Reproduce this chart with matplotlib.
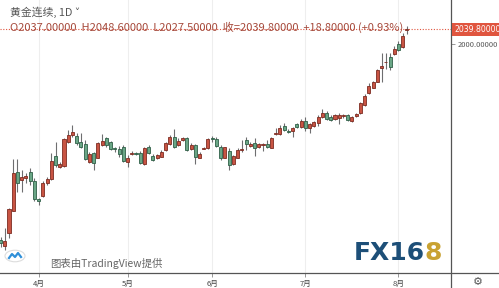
import matplotlib
matplotlib.use("Agg")
import matplotlib.pyplot as plt
from matplotlib.lines import Line2D
from matplotlib.patches import Circle

plt.rcParams['font.family'] = ['Noto Sans CJK SC', 'DejaVu Sans']

# --- Daten ------------------------------------------------------------------
opens = [1480.8, 1464.9, 1499.4, 1558.5, 1662.0, 1640.0, 1646.6, 1661.2, 1638.1, 1588.3,
         1597.5, 1631.2, 1641.8, 1704.5, 1673.7, 1677.1, 1740.0, 1759.4, 1756.7, 1740.0,
         1735.5, 1688.5, 1710.8, 1699.1, 1732.8, 1750.6, 1741.6, 1725.4, 1721.4, 1728.3,
         1688.5, 1710.0, 1711.0, 1710.8, 1681.6, 1726.7, 1704.5, 1697.6, 1701.8, 1719.6,
         1735.5, 1754.9, 1732.8, 1745.3, 1750.6, 1722.2, 1732.8, 1699.1, 1723.5, 1724.1,
         1749.5, 1748.0, 1728.3, 1699.1, 1717.7, 1681.6, 1699.1, 1719.0, 1746.1, 1730.2,
         1738.9, 1728.3, 1732.3, 1734.7, 1725.7, 1762.5, 1761.2, 1783.3, 1768.8, 1770.8,
         1787.8, 1779.8, 1796.5, 1777.1, 1783.3, 1792.0, 1806.3, 1816.9, 1807.9, 1801.8,
         1803.7, 1810.5, 1812.4, 1797.8, 1808.5, 1816.9, 1839.0, 1870.0, 1884.9, 1900.8,
         1936.3, 1952.0, 1965.5, 1973.5, 2000.8, 1993.6, 2037.0]
highs = [1489.6, 1512.6, 1565.7, 1695.7, 1695.7, 1666.5, 1658.6, 1671.8, 1645.3, 1592.2,
         1637.3, 1648.7, 1711.6, 1740.0, 1688.5, 1750.6, 1772.6, 1785.9, 1763.9, 1765.5,
         1746.1, 1715.1, 1715.1, 1741.6, 1762.0, 1754.9, 1743.5, 1728.3, 1730.2, 1732.8,
         1706.3, 1716.9, 1715.1, 1716.9, 1728.3, 1732.8, 1708.2, 1708.2, 1719.6, 1741.6,
         1759.4, 1775.3, 1750.6, 1753.3, 1754.9, 1737.4, 1734.7, 1713.5, 1726.7, 1750.6,
         1757.5, 1754.9, 1732.8, 1728.3, 1724.1, 1706.3, 1724.1, 1746.1, 1754.9, 1741.6,
         1750.6, 1738.9, 1738.9, 1746.1, 1754.9, 1777.1, 1785.9, 1792.0, 1774.5, 1781.4,
         1792.0, 1801.0, 1807.9, 1792.0, 1796.5, 1812.4, 1827.6, 1823.8, 1812.4, 1815.1,
         1816.9, 1815.1, 1815.1, 1809.8, 1816.9, 1847.7, 1868.1, 1896.5, 1902.6, 1933.7,
         1976.9, 1976.9, 1977.7, 1995.5, 2008.8, 2030.0, 2048.6]
lows = [1463.0, 1454.3, 1486.1, 1557.7, 1608.2, 1608.2, 1632.0, 1626.7, 1585.1, 1573.7,
        1595.7, 1626.7, 1640.0, 1675.3, 1671.0, 1675.3, 1737.4, 1754.9, 1732.8, 1724.1,
        1693.0, 1684.3, 1666.5, 1697.6, 1731.0, 1728.3, 1719.6, 1715.1, 1701.8, 1688.5,
        1675.3, 1706.3, 1706.3, 1681.6, 1679.8, 1709.0, 1691.2, 1694.9, 1700.2, 1717.7,
        1732.8, 1725.7, 1731.0, 1743.5, 1716.9, 1719.6, 1681.6, 1697.6, 1721.4, 1722.2,
        1741.6, 1728.3, 1693.0, 1697.6, 1666.5, 1679.8, 1697.6, 1715.1, 1719.6, 1728.3,
        1703.7, 1725.7, 1717.7, 1724.1, 1724.1, 1759.4, 1759.4, 1770.0, 1763.9, 1753.3,
        1777.1, 1777.1, 1770.8, 1765.5, 1781.4, 1783.3, 1803.7, 1799.2, 1796.5, 1799.2,
        1788.6, 1804.5, 1796.5, 1793.9, 1807.1, 1815.1, 1836.3, 1868.1, 1883.3, 1899.2,
        1900.0, 1934.5, 1931.8, 1971.6, 1980.9, 1989.4, 2027.5]
closes = [1473.6, 1479.0, 1563.0, 1659.4, 1631.2, 1647.9, 1650.6, 1638.1, 1590.4, 1585.6,
          1632.8, 1641.8, 1691.2, 1679.8, 1681.6, 1748.8, 1759.4, 1766.5, 1737.4, 1728.3,
          1697.0, 1708.2, 1684.3, 1737.4, 1743.5, 1732.8, 1721.4, 1722.8, 1709.0, 1690.4,
          1699.1, 1711.5, 1710.0, 1684.3, 1724.1, 1710.8, 1693.0, 1706.3, 1715.1, 1737.4,
          1754.9, 1728.3, 1744.3, 1750.6, 1719.6, 1732.8, 1701.8, 1709.0, 1724.5, 1748.8,
          1748.5, 1731.0, 1699.1, 1726.7, 1679.8, 1703.7, 1719.6, 1720.0, 1735.5, 1734.7,
          1724.1, 1735.5, 1732.8, 1728.3, 1752.2, 1764.0, 1778.7, 1772.6, 1767.8, 1777.1,
          1779.8, 1797.3, 1777.1, 1788.6, 1793.1, 1807.9, 1818.5, 1801.0, 1799.2, 1812.4,
          1812.4, 1811.5, 1799.2, 1807.1, 1814.3, 1843.5, 1862.8, 1890.2, 1899.2, 1931.8,
          1943.2, 1954.0, 1940.6, 1986.7, 1983.6, 2021.0, 2039.8]

month_idx = [9, 30, 50, 72, 94]
month_labels = ['4月', '5月', '6月', '7月', '8月']
change = 18.8
change_pct = 0.93

UP_FACE, UP_EDGE = '#c85443', '#7d2c22'
DN_FACE, DN_EDGE = '#6aa686', '#2f5f47'
PX_RED = '#e0553f'

W, H = 499, 288


def fx(px):
    return px / W


def fy(py):
    return 1 - py / H


fig = plt.figure(figsize=(W / 100, H / 100), dpi=100)
fig.patch.set_facecolor('white')
ax = fig.add_axes([0, fy(273), fx(451), 273 / H])

n = len(opens)
xs = list(range(n))
up = [c >= o for o, c in zip(opens, closes)]
faces = [UP_FACE if u else DN_FACE for u in up]
edges = [UP_EDGE if u else DN_EDGE for u in up]
bottoms = [min(o, c) for o, c in zip(opens, closes)]
heights = [max(abs(c - o), 2.0) for o, c in zip(opens, closes)]

ax.vlines(xs, lows, highs, colors='#6e6e70', linewidth=0.8, zorder=2)
ax.bar(xs, heights, bottom=bottoms, width=0.72, color=faces,
       edgecolor=edges, linewidth=0.6, zorder=3)

# aktuelle Kurslinie (gepunktet)
ax.axhline(closes[-1], color=PX_RED, linestyle=(0, (1, 1.5)), linewidth=0.8, zorder=1)

ax.set_xlim(-0.12, 106.4)
ax.set_ylim(1393.3, 2117.5)
for s in ax.spines.values():
    s.set_visible(False)

ax.set_xticks(month_idx)
ax.set_xticklabels(month_labels)
ax.tick_params(axis='x', length=3, width=0.6, color='#888888', labelsize=5.5,
               labelcolor='#444444', pad=2)
ax.grid(axis='x', color='#eeeeee', linewidth=0.8, zorder=0)
ax.set_axisbelow(True)

ax.yaxis.tick_right()
ax.set_yticks([2000])
ax.set_yticklabels(['2000.00000'])
ax.tick_params(axis='y', length=3, width=0.6, color='#888888', labelsize=5.4,
               labelcolor='#555555', pad=2)

# Achsenlinien (Preisachse / Zeitachse)
fig.add_artist(Line2D([0, 1], [fy(273), fy(273)], color='#555555', linewidth=0.9))
fig.add_artist(Line2D([fx(451), fx(451)], [0, 1], color='#555555', linewidth=0.9))

# Preisschild rechts
fig.text(fx(454), fy(29.4), f'{closes[-1]:.5f}', color='white', fontsize=5.6,
         va='center', ha='left', family='DejaVu Sans',
         bbox=dict(boxstyle='square,pad=0.3', fc=PX_RED, ec='none'))

# Kopfzeilen
fig.text(fx(10), fy(12), '黄金连续, 1D ˅', color='#555555', fontsize=7.8,
         va='center', ha='left')
header = (f'O{opens[-1]:.5f}  H{highs[-1]:.5f}  L{lows[-1]:.5f}  '
          f'收={closes[-1]:.5f}  +{change:.5f} (+{change_pct:.2f}%)')
fig.text(fx(10), fy(27.5), header, color='#a64a3c', fontsize=8.0,
         va='center', ha='left')

# Wasserzeichen / Logos
fig.add_artist(Circle((fx(15), fy(256)), 10 / W, transform=fig.transFigure,
                      facecolor='white', edgecolor='#dddddd', linewidth=0.8))
fig.add_artist(Line2D([fx(9), fx(12), fx(15), fx(18), fx(21)],
                      [fy(258), fy(254), fy(257), fy(253), fy(257)],
                      color='#2f8fd8', linewidth=1.6))
fig.text(fx(50), fy(263), '图表由TradingView提供', color='#666666', fontsize=7.5,
         va='center', ha='left')
fig.text(fx(354), fy(253), 'FX16', color='#1d4f78', fontsize=18, weight='bold',
         va='center', ha='left', family='DejaVu Sans')
fig.text(fx(424), fy(253), '8', color='#c9a232', fontsize=18, weight='bold',
         va='center', ha='left', family='DejaVu Sans')
fig.text(fx(478), fy(282), '⚙', color='#555555', fontsize=8, va='center',
         ha='center', family='DejaVu Sans')

fig.savefig('out.png', dpi=100)
